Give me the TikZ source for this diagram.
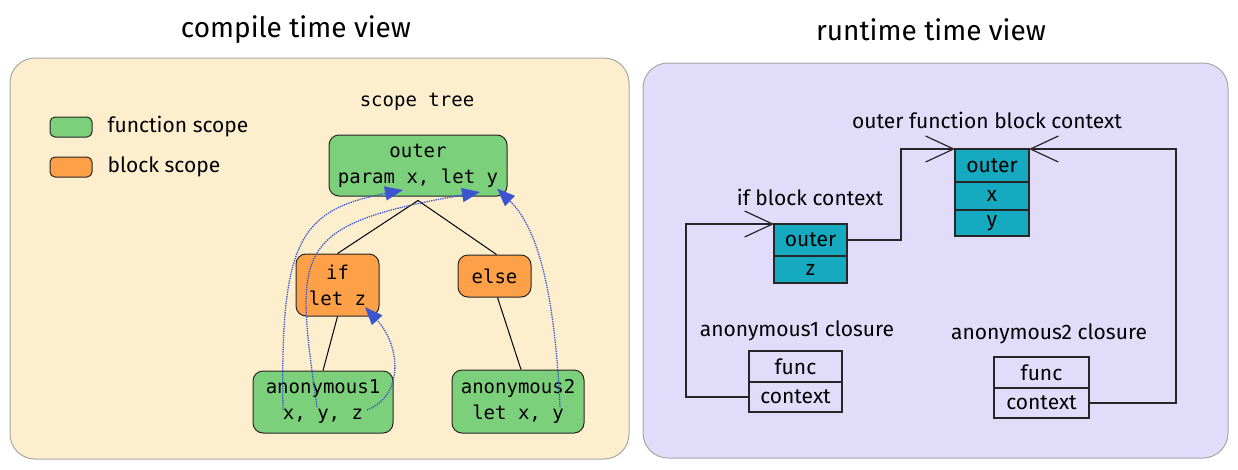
\documentclass[tikz,border=0pt]{standalone}
\usepackage{fontspec}
\setmainfont{Fira Sans}
\setmonofont{DejaVu Sans Mono}
\usepackage{tikz}
\usetikzlibrary{arrows.meta,calc}

\definecolor{panelcream}{HTML}{FDEFCE}
\definecolor{panelviolet}{HTML}{E2DCFB}
\definecolor{scopegreen}{HTML}{7CCF7B}
\definecolor{scopeorange}{HTML}{FDA048}
\definecolor{cellteal}{HTML}{15AABF}
\definecolor{refblue}{HTML}{3B55D0}

\tikzset{
  hand/.style={font=\fontsize{21}{25}\selectfont},
  title/.style={font=\fontsize{28}{32}\selectfont},
  scopebox/.style={draw=black!85,line width=1pt,rounded corners=10pt,
    align=center,inner sep=0pt,font=\ttfamily\fontsize{19}{26}\selectfont},
  funcscope/.style={scopebox,fill=scopegreen},
  blockscope/.style={scopebox,fill=scopeorange},
  cell/.style={draw=black!85,line width=1.1pt,inner sep=0pt,outer sep=0pt,
    font=\fontsize{21}{24}\selectfont},
  ctxcell/.style={cell,fill=cellteal},
  refarrow/.style={refblue,densely dotted,line width=1.3pt,
    -{Triangle[length=18pt,width=14pt]}},
  ptrarrow/.style={black!85,line width=1.1pt,
    -{Straight Barb[length=28pt,width=26pt,line width=1.2pt]}},
}

\begin{document}
\begin{tikzpicture}[x=1pt,y=-1pt]
\useasboundingbox (0,0) rectangle (1238,469);

% panels
\draw[rounded corners=25pt,fill=panelcream,draw=black!35,line width=1pt] (10,58) rectangle (629,459);
\draw[rounded corners=25pt,fill=panelviolet,draw=black!35,line width=1pt] (643,63) rectangle (1228,458);
\node[title] (ctitle) at (296,30) {compile time view};
\node[title] (rtitle) at (931,30) {runtime time view};

% legend
\node[funcscope,minimum width=42pt,minimum height=20pt,rounded corners=5pt] (lgfunc) at (71,127) {};
\node[blockscope,minimum width=42pt,minimum height=20pt,rounded corners=5pt] (lgblock) at (71,167) {};
\node[hand,anchor=west] (lgfunctxt) at (104,127) {function scope};
\node[hand,anchor=west] (lgblocktxt) at (104,167) {block scope};

% scope tree
\node[font=\ttfamily\fontsize{19}{24}\selectfont] (treetitle) at (417,102) {scope tree};
\node[funcscope,minimum width=178pt,minimum height=61pt] (outer) at (418,165.5) {outer\\param x, let y};
\node[blockscope,minimum width=83pt,minimum height=62pt] (ifblk) at (337.5,285) {if\\let z};
\node[blockscope,minimum width=73pt,minimum height=42pt] (elseblk) at (494.5,276) {else};
\node[funcscope,minimum width=140pt,minimum height=62pt] (anonA) at (323,402) {anonymous1\\x, y, z};
\node[funcscope,minimum width=132pt,minimum height=63pt] (anonB) at (518,401.5) {anonymous2\\let x, y};

\draw[line width=1pt] ([yshift=-4]outer.south) -- (ifblk.north);
\draw[line width=1pt] ([yshift=-4]outer.south) -- ([xshift=2]elseblk.north);
\draw[line width=1pt] (ifblk.south) -- (anonA.north);
\draw[line width=1pt] ([xshift=3]elseblk.south) -- ([xshift=3]anonB.north);

% lookups
\draw[refarrow] ([shift={(-40,8)}]anonA.center) .. controls (280,240) and (300,210) .. ([shift={(-15,24.5)}]outer.center);
\draw[refarrow] ([shift={(-6,5)}]anonA.center) .. controls (295,250) and (290,225) .. ([shift={(62,26.5)}]outer.center);
\draw[refarrow] ([shift={(44,8)}]anonA.center) .. controls (405,395) and (400,345) .. ([shift={(27.5,22)}]ifblk.center);
\draw[refarrow] ([shift={(42,5.5)}]anonB.center) .. controls (555,300) and (540,230) .. ([shift={(79,23)}]outer.center);

% runtime contexts
\node[hand] (fnctxlbl) at (987,120) {outer function block context};
\node[ctxcell,minimum width=74pt,minimum height=33pt] (fnouter) at (992,165.5) {outer};
\node[ctxcell,minimum width=74pt,minimum height=28pt] (fnx) at (992,196) {x};
\node[ctxcell,minimum width=74pt,minimum height=26pt] (fny) at (992,223) {y};

\node[hand] (ifctxlbl) at (810,197) {if block context};
\node[ctxcell,minimum width=73pt,minimum height=32pt] (ifouter) at (810.5,240) {outer};
\node[ctxcell,minimum width=73pt,minimum height=27pt] (ifz) at (810.5,269.5) {z};

\node[hand] (clAlbl) at (797,331) {anonymous1 closure};
\node[cell,minimum width=93pt,minimum height=31pt] (clAfunc) at (795.5,366.5) {func};
\node[cell,minimum width=93pt,minimum height=30pt] (clActx) at (795.5,397) {context};

\node[hand] (clBlbl) at (1049,334) {anonymous2 closure};
\node[cell,minimum width=95pt,minimum height=31pt] (clBfunc) at (1041.5,372.5) {func};
\node[cell,minimum width=95pt,minimum height=30pt] (clBctx) at (1041.5,403) {context};

\draw[ptrarrow] (clActx.west) -- (686,397) -- (686,224) -- (ifouter.north west);
\draw[ptrarrow] (ifouter.east) -- (901,240) -- (901,149) -- (fnouter.north west);
\draw[ptrarrow] (clBctx.east) -- (1176,403) -- (1176,149) -- (fnouter.north east);
\end{tikzpicture}
\end{document}
